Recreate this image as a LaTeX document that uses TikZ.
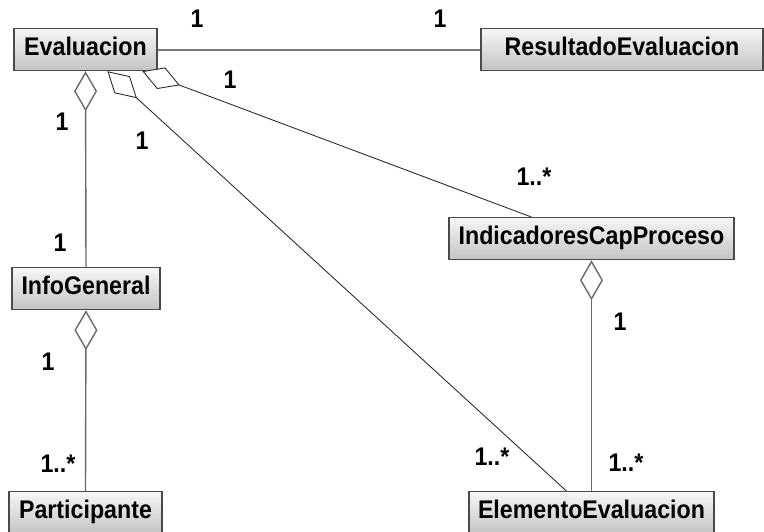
\documentclass[tikz,border=0pt]{standalone}
\usepackage{fontspec}
\setmainfont{Liberation Sans}[FakeStretch=0.91]
\usetikzlibrary{arrows.meta,calc}

\definecolor{boxtop}{HTML}{F6F6F6}
\definecolor{boxbot}{HTML}{C4C4C4}
\definecolor{boxedge}{HTML}{4A4A4A}
\definecolor{linkgray}{HTML}{6A6A6A}
\definecolor{linkdark}{HTML}{2E2E2E}

\tikzset{
  umlfont/.style={font=\fontsize{25.5}{30}\selectfont\bfseries},
  classbox/.style={umlfont, draw=boxedge, line width=1.2pt,
    top color=boxtop, bottom color=boxbot,
    inner xsep=0pt, inner ysep=9pt, text height=18pt, text depth=6pt,
    anchor=north},
  mult/.style={umlfont, inner sep=0pt},
  assoc/.style={draw=linkgray!90, line width=2pt},
  aggvert/.style={draw=linkgray, line width=1.4pt,
    {Diamond[length=40pt,width=23pt,fill=white]}-},
  aggdiag/.style={draw=linkdark, line width=0.9pt,
    {Diamond[length=40pt,width=23pt,fill=white]}-}
}

\begin{document}
\begin{tikzpicture}[x=1pt,y=-1pt]
  \useasboundingbox (0,0) rectangle (764,531);
  \clip (0,0) rectangle (764,531);

  % classes
  \node[classbox, minimum width=143pt] (eval) at (85.5,28) {Evaluacion};
  \node[classbox, minimum width=282pt] (res)  at (622,28)  {ResultadoEvaluacion};
  \node[classbox, minimum width=285pt] (ind)  at (591.5,217) {IndicadoresCapProceso};
  \node[classbox, minimum width=148pt] (info) at (86,267) {InfoGeneral};
  \node[classbox, minimum width=153pt] (part) at (85.5,491) {Participante};
  \node[classbox, minimum width=245pt] (elem) at (591.5,491) {ElementoEvaluacion};

  % association
  \draw[assoc] (eval.east) -- (res.west);

  % aggregations
  \draw[aggvert] (eval.south) -- (info.north);
  \draw[aggvert] (info.south) -- (part.north);
  \draw[aggvert] (ind.south) -- (elem.north);
  \draw[aggdiag] ($(eval.south west)+(94,0)$) -- ($(elem.north west)+(98,0)$);
  \draw[aggdiag] ($(eval.south west)+(129,0)$) -- ($(ind.north west)+(83,0)$);

  % multiplicities
  \node[mult] (m1) at (197,19) {1};
  \node[mult] (m2) at (440,19) {1};
  \node[mult] (m3) at (230,80) {1};
  \node[mult] (m4) at (534,177) {1..*};
  \node[mult] (m5) at (62,122) {1};
  \node[mult] (m6) at (142,141) {1};
  \node[mult] (m7) at (60,243) {1};
  \node[mult] (m8) at (48,362) {1};
  \node[mult] (m9) at (58,464) {1..*};
  \node[mult] (m10) at (492,457) {1..*};
  \node[mult] (m11) at (620,322) {1};
  \node[mult] (m12) at (626,463) {1..*};
\end{tikzpicture}
\end{document}
